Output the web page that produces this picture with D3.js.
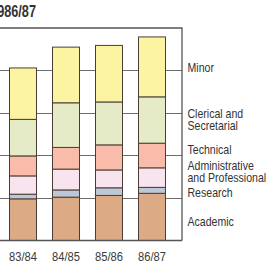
<!DOCTYPE html>
<html><head><meta charset="utf-8">
<script src="https://cdn.jsdelivr.net/npm/d3@7"></script>
<style>
html,body{margin:0;padding:0;background:#fff;overflow:hidden;}
svg{display:block;}
text{font-family:"Liberation Sans",Arial,sans-serif;fill:#333;}
</style></head>
<body>
<svg id="chart" width="269" height="268"></svg>
<script>
const years = ["83/84", "84/85", "85/86", "86/87"];
const seriesNames = ["Academic", "Research", "Administrative and Professional", "Technical", "Clerical and Secretarial", "Minor"];
const academic   = [980, 1020, 1060, 1110];
const research   = [110, 170, 180, 140];
const admin      = [430, 490, 420, 460];
const technical  = [470, 510, 590, 580];
const clerical   = [860, 1050, 1010, 1090];
const minor      = [1210, 1310, 1330, 1410];
const gridTicks  = [1000, 2000, 3000, 4000];
const titleText  = "1986/87";
const legendLines = [["Academic"], ["Research"], ["Administrative", "and Professional"], ["Technical"], ["Clerical and", "Secretarial"], ["Minor"]];

const colors = ["#dcaa84", "#bcc8d6", "#f7e4ee", "#f9bcab", "#e4ebc6", "#fdf4a3"];
const legendNudge = [5, 2, -6, -6, 0, 1];

const svg = d3.select("#chart");
const frameRight = 182, baseY = 240.5, topY = 28;

const x = d3.scaleBand().domain(years).range([1.5, 173.5]).paddingInner(16/43).paddingOuter(8/43);
const y = d3.scaleLinear().domain([0, 5000]).range([baseY, topY]);

const rows = years.map((yr, i) => ({year: yr, Academic: academic[i], Research: research[i],
  "Administrative and Professional": admin[i], Technical: technical[i],
  "Clerical and Secretarial": clerical[i], Minor: minor[i]}));
const stacked = d3.stack().keys(seriesNames)(rows);

// condensed text helper
function ctext(parent, tx, ty, sx, size, anchor) {
  const g = parent.append("g").attr("transform", `translate(${tx},${ty}) scale(${sx},1)`);
  return g.append("text").attr("x", 0).attr("y", 0).attr("font-size", size + "px")
    .attr("text-anchor", anchor || "start");
}

// gridlines
svg.append("g").selectAll("line").data(gridTicks).join("line")
  .attr("x1", 0).attr("x2", frameRight)
  .attr("y1", d => Math.round(y(d)) + 0.5).attr("y2", d => Math.round(y(d)) + 0.5)
  .attr("stroke", "#6d6d6d").attr("stroke-width", 1);

// bars
svg.append("g").selectAll("g").data(stacked).join("g")
  .attr("fill", (d, i) => colors[i])
  .selectAll("rect").data(d => d).join("rect")
  .attr("x", d => x(d.data.year))
  .attr("width", x.bandwidth())
  .attr("y", d => y(d[1]))
  .attr("height", d => y(d[0]) - y(d[1]))
  .attr("stroke", "#4b3d33").attr("stroke-width", 1);

// frame
svg.append("line").attr("x1", 0).attr("x2", frameRight + 0.5).attr("y1", topY).attr("y2", topY)
  .attr("stroke", "#555").attr("stroke-width", 1.6);
svg.append("line").attr("x1", frameRight).attr("x2", frameRight).attr("y1", topY).attr("y2", baseY)
  .attr("stroke", "#555").attr("stroke-width", 1.3);
svg.append("line").attr("x1", 0).attr("x2", frameRight).attr("y1", baseY).attr("y2", baseY)
  .attr("stroke", "#555").attr("stroke-width", 1.3);

// x axis labels (band scale positions)
const gx = svg.append("g");
years.forEach(yr => {
  ctext(gx, x(yr) + x.bandwidth() / 2, 261, 0.86, 13, "middle").style("fill", "#3a3a3a").text(yr);
});

// legend
const last = stacked.map(s => s[s.length - 1]);
const lg = svg.append("g");
legendLines.forEach((lines, i) => {
  const mid = (y(last[i][0]) + y(last[i][1])) / 2 + legendNudge[i];
  const lh = 12;
  lines.forEach((ln, j) => {
    const ly = mid - (lines.length - 1) * lh / 2 + j * lh + 4.3;
    ctext(lg, 187.5, ly, 0.88, 12).text(ln);
  });
});

// title
ctext(svg, 36, 17, 0.77, 16.5, "end").attr("font-weight", "bold").text(titleText);
</script>
</body></html>
